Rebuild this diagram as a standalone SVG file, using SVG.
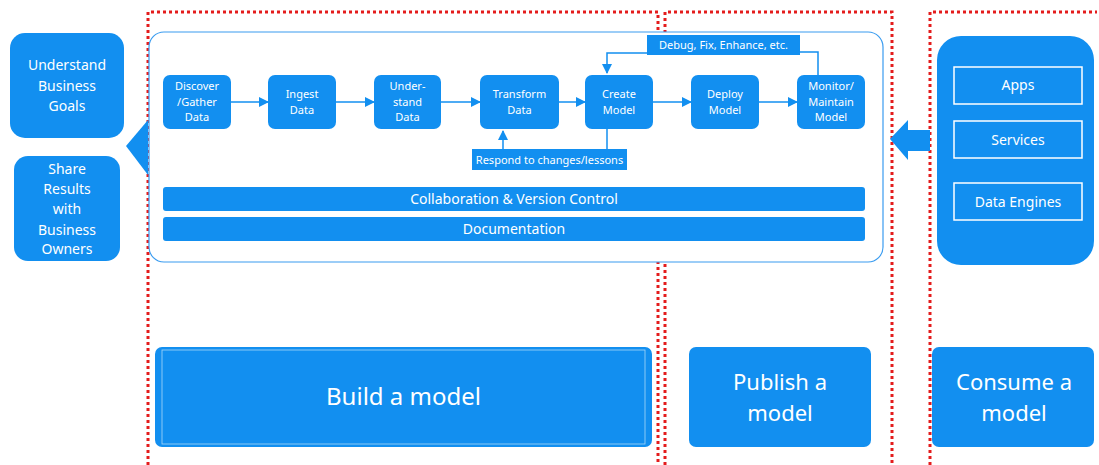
<svg xmlns="http://www.w3.org/2000/svg" width="1099" height="465" viewBox="0 0 1099 465">
<style>
.b{fill:#128ff0}
.t{fill:#fff;font-family:"Noto Sans","Open Sans",sans-serif;text-anchor:middle}
.s{font-size:11px}
.m{font-size:14px}
.l{font-size:24px}
.l2{font-size:22px}
.red{fill:none;stroke:#e41c1c;stroke-width:3;stroke-dasharray:3 3}
.ln{fill:none;stroke:#128ff0;stroke-width:1.5}
.ob{fill:none;stroke:#fff;stroke-width:1.5}
</style>
<defs>
<marker id="ah" viewBox="0 0 10 10" refX="9" refY="5" markerWidth="10" markerHeight="10" markerUnits="userSpaceOnUse" orient="auto"><path d="M0,0 L10,5 L0,10 z" fill="#128ff0"/></marker>
</defs>
<rect width="1099" height="465" fill="#fff"/>
<g id="regions">
<path class="red" d="M148,465 V12 H658 V465"/>
<path class="red" d="M665,465 V12 H892 V465"/>
<path class="red" d="M930,465 V12 H1097"/>
</g>
<rect id="container" x="149" y="32" width="734" height="230" rx="15" fill="#fff" stroke="#3a9cf0" stroke-width="1.2"/>
<g id="goals"><rect class="b" x="10" y="33" width="114" height="105" rx="15"/>
<text class="t m" x="67" y="70">Understand</text><text class="t m" x="67" y="91">Business</text><text class="t m" x="67" y="111">Goals</text></g>
<g id="share"><rect class="b" x="14" y="156" width="106" height="105" rx="14"/>
<text class="t m" x="67" y="174">Share</text><text class="t m" x="67" y="194">Results</text><text class="t m" x="67" y="214">with</text><text class="t m" x="67" y="235">Business</text><text class="t m" x="67" y="254">Owners</text></g>
<path id="tri" class="b" d="M126,146 L148,120 L148,175 z"/>
<g id="discover"><rect class="b" x="163" y="75" width="68" height="54" rx="7"/>
<text class="t s" x="197" y="90">Discover</text><text class="t s" x="197" y="106">/Gather</text><text class="t s" x="197" y="121">Data</text></g>
<g id="ingest"><rect class="b" x="268" y="75" width="68" height="54" rx="7"/>
<text class="t s" x="302" y="98">Ingest</text><text class="t s" x="302" y="114">Data</text></g>
<g id="understand"><rect class="b" x="374" y="75" width="67" height="54" rx="7"/>
<text class="t s" x="407.5" y="90">Under-</text><text class="t s" x="407.5" y="106">stand</text><text class="t s" x="407.5" y="121">Data</text></g>
<g id="transform"><rect class="b" x="480" y="75" width="79" height="54" rx="7"/>
<text class="t s" x="519.5" y="98">Transform</text><text class="t s" x="519.5" y="114">Data</text></g>
<g id="create"><rect class="b" x="585" y="75" width="68" height="54" rx="7"/>
<text class="t s" x="619" y="98">Create</text><text class="t s" x="619" y="114">Model</text></g>
<g id="deploy"><rect class="b" x="691" y="75" width="68" height="54" rx="7"/>
<text class="t s" x="725" y="98">Deploy</text><text class="t s" x="725" y="114">Model</text></g>
<g id="monitor"><rect class="b" x="797" y="75" width="68" height="54" rx="7"/>
<text class="t s" x="831" y="90">Monitor/</text><text class="t s" x="831" y="106">Maintain</text><text class="t s" x="831" y="121">Model</text></g>
<g id="debug"><rect class="b" x="647" y="35" width="153" height="20"/>
<text class="t s" x="723.5" y="49">Debug, Fix, Enhance, etc.</text></g>
<g id="respond"><rect class="b" x="472" y="149" width="155" height="21"/>
<text class="t s" x="549.5" y="163.5">Respond to changes/lessons</text></g>
<g id="collab"><rect class="b" x="163" y="187" width="702" height="24" rx="3"/>
<text class="t m" x="514" y="204">Collaboration &amp; Version Control</text></g>
<g id="doc"><rect class="b" x="163" y="217" width="702" height="24" rx="3"/>
<text class="t m" x="514" y="234">Documentation</text></g>
<g id="consumers"><rect class="b" x="937" y="36" width="157" height="229" rx="24"/>
<rect class="ob" x="954" y="67" width="128" height="37"/><text class="t m" x="1018" y="90">Apps</text>
<rect class="ob" x="954" y="121" width="128" height="37"/><text class="t m" x="1018" y="145">Services</text>
<rect class="ob" x="954" y="183" width="128" height="37"/><text class="t m" x="1018" y="207">Data Engines</text></g>
<path id="bigarrow" class="b" d="M890,139 L908,120 L908,130 L930,130 L930,151 L908,151 L908,160 z"/>
<g id="build"><rect class="b" x="155" y="347" width="497" height="100" rx="7"/>
<rect x="162" y="350" width="483" height="94" fill="none" stroke="#a9d6f8" stroke-width="0.8"/>
<text class="t l" x="403.5" y="405">Build a model</text></g>
<g id="publish"><rect class="b" x="689" y="347" width="182" height="100" rx="7"/>
<text class="t l2" x="780" y="390">Publish a</text><text class="t l2" x="780" y="421">model</text></g>
<g id="consume"><rect class="b" x="932" y="347" width="162" height="100" rx="7"/>
<text class="t l2" x="1014" y="390">Consume a</text><text class="t l2" x="1014" y="421">model</text></g>
<g id="connectors">
<path class="ln" d="M231,102 H268" marker-end="url(#ah)"/>
<path class="ln" d="M336,102 H374" marker-end="url(#ah)"/>
<path class="ln" d="M441,102 H480" marker-end="url(#ah)"/>
<path class="ln" d="M559,102 H585" marker-end="url(#ah)"/>
<path class="ln" d="M653,102 H691" marker-end="url(#ah)"/>
<path class="ln" d="M759,102 H797" marker-end="url(#ah)"/>
<path class="ln" d="M818,75 V52 H800"/>
<path class="ln" d="M647,53 H607 V73" marker-end="url(#ah)"/>
<path class="ln" d="M607,129 V149"/>
<path class="ln" d="M503,149 V131" marker-end="url(#ah)"/>
</g>
</svg>
